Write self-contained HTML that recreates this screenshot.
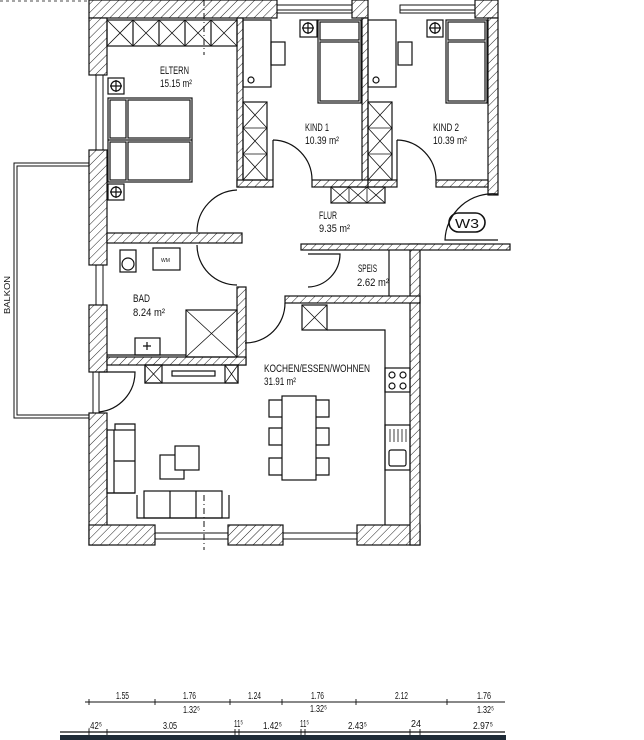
<!DOCTYPE html>
<html><head><meta charset="utf-8"><style>
html,body{margin:0;padding:0;background:#fff;}
svg{display:block}
text{font-family:"Liberation Sans",sans-serif;fill:#111;}
</style></head><body>
<svg width="644" height="740" viewBox="0 0 644 740" xmlns="http://www.w3.org/2000/svg">
<defs>
<pattern id="h" patternUnits="userSpaceOnUse" width="6" height="6" patternTransform="rotate(45)">
<rect width="6" height="6" fill="#fff"/><line x1="0" y1="0" x2="0" y2="6" stroke="#222" stroke-width="1"/>
</pattern>
</defs>
<g stroke="#111" stroke-width="1.2" fill="none">
<line x1="0" y1="1" x2="89" y2="1" stroke-dasharray="3,3" stroke-width="0.8"/>
<g fill="url(#h)">
<rect x="89" y="0" width="188" height="18"/>
<rect x="352" y="0" width="16" height="18"/>
<rect x="475" y="0" width="23" height="18"/>
<rect x="89" y="18" width="18" height="57"/>
<rect x="89" y="150" width="18" height="115"/>
<rect x="89" y="305" width="18" height="67"/>
<rect x="89" y="413" width="18" height="132"/>
<rect x="89" y="525" width="66" height="20"/>
<rect x="228" y="525" width="55" height="20"/>
<rect x="357" y="525" width="63" height="20"/>
<rect x="410" y="244" width="10" height="301"/>
<rect x="488" y="18" width="10" height="177"/>
<rect x="237" y="18" width="6" height="169"/>
<rect x="362" y="18" width="6" height="169"/>
<rect x="237" y="180" width="36" height="7"/>
<rect x="312" y="180" width="56" height="7"/>
<rect x="368" y="180" width="29" height="7"/>
<rect x="436" y="180" width="52" height="7"/>
<rect x="107" y="233" width="135" height="10"/>
<rect x="237" y="287" width="9" height="78"/>
<rect x="107" y="357" width="139" height="8"/>
<rect x="301" y="244" width="209" height="6"/>
<rect x="285" y="296" width="135" height="7"/>
</g>
<g stroke-width="1">
<rect x="277" y="5" width="75" height="8"/><line x1="277" y1="10" x2="352" y2="10"/>
<rect x="400" y="5" width="75" height="8"/><line x1="400" y1="10" x2="475" y2="10"/>
<rect x="96" y="75" width="7" height="75"/>
<rect x="96" y="265" width="7" height="40"/>
<rect x="93" y="372" width="6" height="41"/>
<rect x="155" y="533" width="73" height="6"/>
<rect x="283" y="533" width="74" height="6"/>
</g>
<path d="M89 163 H14 V418 H89" stroke-width="1"/>
<path d="M89 166 H17 V415 H89" stroke-width="1"/>
<path d="M237 190 A42 42 0 0 0 197 232"/>
<path d="M197 245 A40 40 0 0 0 237 285"/>
<path d="M273 140 V180 M273 140 A40 40 0 0 1 312 180"/>
<path d="M397 140 V180 M397 140 A40 40 0 0 1 436 180"/>
<path d="M308 254 H340 A33 33 0 0 1 308 287"/>
<path d="M285 303 A40 40 0 0 1 245 343"/>
<path d="M99 372 H135 A40 40 0 0 1 99 412"/>
<path d="M498 194 A48 48 0 0 0 445 240 H498"/>
<rect x="107" y="20" width="130" height="26"/>
<path d="M133 20V46M159 20V46M185 20V46M211 20V46"/>
<path d="M107 20L133 46M133 20L107 46M133 20L159 46M159 20L133 46M159 20L185 46M185 20L159 46M185 20L211 46M211 20L185 46M211 20L237 46M237 20L211 46" stroke-width="0.8"/>
<rect x="108" y="98" width="84" height="84"/><line x1="108" y1="140" x2="192" y2="140"/>
<rect x="110" y="100" width="16" height="38"/><rect x="110" y="142" width="16" height="38"/>
<rect x="128" y="100" width="62" height="38"/><rect x="128" y="142" width="62" height="38"/>
<rect x="108" y="78" width="16" height="16"/><circle cx="116" cy="86" r="5"/><path d="M116 80V92M110 86H122"/>
<rect x="108" y="184" width="16" height="16"/><circle cx="116" cy="192" r="5"/><path d="M116 186V198M110 192H122"/>
<rect x="243" y="20" width="28" height="67"/><rect x="271" y="42" width="14" height="23"/>
<circle cx="251" cy="80" r="3"/>
<rect x="300" y="20" width="17" height="17"/><circle cx="308" cy="28" r="5"/><path d="M308 22V34M302 28H314"/>
<rect x="318" y="20" width="43" height="83"/><rect x="320" y="22" width="39" height="18"/><rect x="320" y="42" width="39" height="59"/>
<rect x="243" y="102" width="24" height="78"/><path d="M243 128H267M243 154H267M243 102L267 128M267 102L243 128M243 128L267 154M267 128L243 154M243 154L267 180M267 154L243 180" stroke-width="0.8"/>
<rect x="368" y="20" width="28" height="67"/><rect x="398" y="42" width="14" height="23"/>
<circle cx="376" cy="80" r="3"/>
<rect x="427" y="20" width="16" height="17"/><circle cx="435" cy="28" r="5"/><path d="M435 22V34M429 28H441"/>
<rect x="446" y="20" width="41" height="83"/><rect x="448" y="22" width="37" height="18"/><rect x="448" y="42" width="37" height="59"/>
<rect x="368" y="102" width="24" height="78"/><path d="M368 128H392M368 154H392M368 102L392 128M392 102L368 128M368 128L392 154M392 128L368 154M368 154L392 180M392 154L368 180" stroke-width="0.8"/>
<rect x="331" y="187" width="54" height="16"/><path d="M349 187V203M367 187V203M331 187L349 203M349 187L331 203M349 187L367 203M367 187L349 203M367 187L385 203M385 187L367 203" stroke-width="0.8"/>
<rect x="449" y="213" width="36" height="19" rx="9.5" stroke-width="1.6"/>
<line x1="389" y1="250" x2="389" y2="296"/>
<rect x="120" y="250" width="16" height="22"/><circle cx="128" cy="264" r="6"/>
<rect x="153" y="248" width="27" height="22"/>
<rect x="135" y="338" width="25" height="17"/><path d="M147 342V350M143 346H151"/>
<line x1="107" y1="355" x2="186" y2="355"/>
<rect x="186" y="310" width="51" height="47"/><path d="M186 310L237 357M237 310L186 357" stroke-width="0.8"/>
<rect x="145" y="365" width="93" height="18"/>
<rect x="145" y="365" width="17" height="18"/><path d="M145 365L162 383M162 365L145 383" stroke-width="0.8"/>
<rect x="225" y="365" width="13" height="18"/><path d="M225 365L238 383M238 365L225 383" stroke-width="0.8"/>
<rect x="172" y="371" width="43" height="5"/>
<rect x="302" y="305" width="25" height="25"/><path d="M302 305L327 330M327 305L302 330" stroke-width="0.8"/>
<path d="M327 330H385V525"/>
<rect x="385" y="368" width="25" height="24"/>
<circle cx="392" cy="375" r="3"/><circle cx="403" cy="375" r="3"/><circle cx="392" cy="386" r="3"/><circle cx="403" cy="386" r="3"/>
<rect x="385" y="425" width="25" height="45"/>
<path d="M390 429V442M394 429V442M398 429V442M402 429V442M406 429V442" stroke-width="0.8"/>
<rect x="389" y="450" width="17" height="16" rx="2"/>
<rect x="282" y="396" width="34" height="84"/>
<path d="M282 400H269V417H282M282 428H269V445H282M282 458H269V475H282M316 400H329V417H316M316 428H329V445H316M316 458H329V475H316"/>
<rect x="107" y="430" width="28" height="63"/><path d="M114 430V493M114 461H135M115 430V424H135V430M107 493H135"/>
<rect x="144" y="491" width="78" height="27"/><path d="M137 495V518H229V495M170 491V518M196 491V518"/>
<rect x="160" y="455" width="24" height="24"/><rect x="175" y="446" width="24" height="24" fill="#fff"/>
<line x1="204" y1="0" x2="204" y2="55" stroke-dasharray="6,3,1,3" stroke-width="1"/>
<line x1="204" y1="495" x2="204" y2="550" stroke-dasharray="6,3,1,3" stroke-width="1"/>
<line x1="85" y1="702" x2="505" y2="702" stroke-width="0.9"/>
<line x1="60" y1="732" x2="505" y2="732" stroke-width="1.2"/>
<path d="M89 699V705M155 699V705M230 699V705M282 699V705M356 699V705M447 699V705" stroke-width="0.9"/>
<path d="M89 729V735M107 729V735M235 729V735M239 729V735M301 729V735M305 729V735M410 729V735M420 729V735" stroke-width="0.9"/>
</g>
<rect x="60" y="735" width="446" height="5" fill="#1e2a36"/>
<g font-size="11">
<text x="160" y="74" textLength="29" lengthAdjust="spacingAndGlyphs">ELTERN</text>
<text x="160" y="87" textLength="32" lengthAdjust="spacingAndGlyphs">15.15 m²</text>
<text x="305" y="131" textLength="24" lengthAdjust="spacingAndGlyphs">KIND 1</text>
<text x="305" y="144" textLength="34" lengthAdjust="spacingAndGlyphs">10.39 m²</text>
<text x="433" y="131" textLength="26" lengthAdjust="spacingAndGlyphs">KIND 2</text>
<text x="433" y="144" textLength="34" lengthAdjust="spacingAndGlyphs">10.39 m²</text>
<text x="319" y="219" textLength="18" lengthAdjust="spacingAndGlyphs">FLUR</text>
<text x="319" y="232" textLength="31" lengthAdjust="spacingAndGlyphs">9.35 m²</text>
<text x="358" y="272" textLength="19" lengthAdjust="spacingAndGlyphs">SPEIS</text>
<text x="357" y="286" textLength="32" lengthAdjust="spacingAndGlyphs">2.62 m²</text>
<text x="133" y="302" textLength="17" lengthAdjust="spacingAndGlyphs">BAD</text>
<text x="133" y="316" textLength="32" lengthAdjust="spacingAndGlyphs">8.24 m²</text>
<text x="264" y="372" textLength="106" lengthAdjust="spacingAndGlyphs">KOCHEN/ESSEN/WOHNEN</text>
<text x="264" y="385" textLength="32" lengthAdjust="spacingAndGlyphs">31.91 m²</text>
<text x="455" y="228" font-size="13" textLength="24" lengthAdjust="spacingAndGlyphs">W3</text>
<text x="161" y="262" font-size="5">WM</text>
<text transform="translate(10,314) rotate(-90)" font-size="8" textLength="38" lengthAdjust="spacingAndGlyphs">BALKON</text>
</g>
<g font-size="10">
<text x="116" y="699" textLength="13" lengthAdjust="spacingAndGlyphs">1.55</text>
<text x="183" y="699" textLength="13" lengthAdjust="spacingAndGlyphs">1.76</text>
<text x="248" y="699" textLength="13" lengthAdjust="spacingAndGlyphs">1.24</text>
<text x="311" y="699" textLength="13" lengthAdjust="spacingAndGlyphs">1.76</text>
<text x="395" y="699" textLength="13" lengthAdjust="spacingAndGlyphs">2.12</text>
<text x="477" y="699" textLength="14" lengthAdjust="spacingAndGlyphs">1.76</text>
<text x="183" y="713" textLength="17" lengthAdjust="spacingAndGlyphs">1.32⁵</text>
<text x="310" y="712" textLength="17" lengthAdjust="spacingAndGlyphs">1.32⁵</text>
<text x="477" y="713" textLength="17" lengthAdjust="spacingAndGlyphs">1.32⁵</text>
<text x="88" y="729" textLength="14" lengthAdjust="spacingAndGlyphs">.42⁵</text>
<text x="163" y="729" textLength="14" lengthAdjust="spacingAndGlyphs">3.05</text>
<text x="234" y="727" textLength="9" lengthAdjust="spacingAndGlyphs">11⁵</text>
<text x="263" y="729" textLength="19" lengthAdjust="spacingAndGlyphs">1.42⁵</text>
<text x="300" y="727" textLength="9" lengthAdjust="spacingAndGlyphs">11⁵</text>
<text x="348" y="729" textLength="19" lengthAdjust="spacingAndGlyphs">2.43⁵</text>
<text x="411" y="727" textLength="10" lengthAdjust="spacingAndGlyphs">24</text>
<text x="473" y="729" textLength="20" lengthAdjust="spacingAndGlyphs">2.97⁵</text>
</g>
</svg>
</body></html>
